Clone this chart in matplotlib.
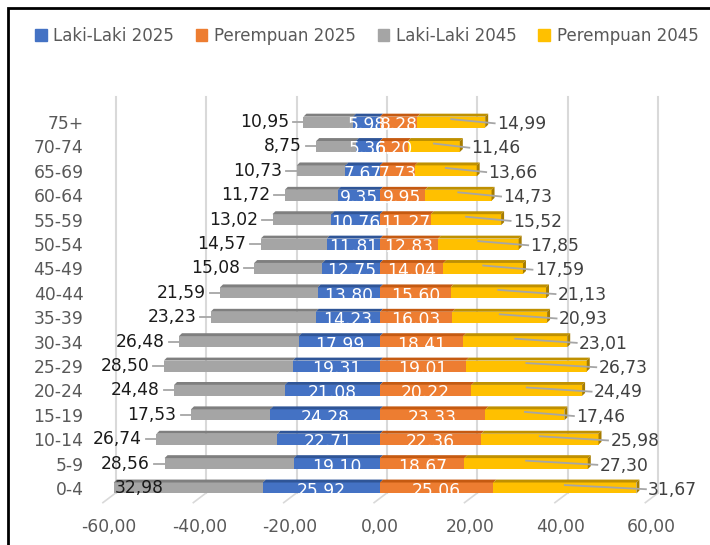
import matplotlib.pyplot as plt
from matplotlib.patches import Patch, Polygon, Rectangle

plt.rcParams['font.family'] = ['DejaVu Sans']

# Data piramida penduduk (persen ribu), dari kelompok umur termuda ke tertua
kelompok_umur = ['0-4', '5-9', '10-14', '15-19', '20-24', '25-29', '30-34', '35-39',
                 '40-44', '45-49', '50-54', '55-59', '60-64', '65-69', '70-74', '75+']
laki_2025 = [25.92, 19.10, 22.71, 24.28, 21.08, 19.31, 17.99, 14.23,
             13.80, 12.75, 11.81, 10.76, 9.35, 7.67, 5.36, 5.98]
perempuan_2025 = [25.06, 18.67, 22.36, 23.33, 20.22, 19.01, 18.41, 16.03,
                  15.60, 14.04, 12.83, 11.27, 9.95, 7.73, 6.20, 8.28]
laki_2045 = [32.98, 28.56, 26.74, 17.53, 24.48, 28.50, 26.48, 23.23,
             21.59, 15.08, 14.57, 13.02, 11.72, 10.73, 8.75, 10.95]
perempuan_2045 = [31.67, 27.30, 25.98, 17.46, 24.49, 26.73, 23.01, 20.93,
                  21.13, 17.59, 17.85, 15.52, 14.73, 13.66, 11.46, 14.99]
sumbu_x = [-60, -40, -20, 0, 20, 40, 60]

# Warna gaya Excel: muka depan dan muka atas (lebih gelap)
biru, biru_atas = '#4472C4', '#2F5597'
oranye, oranye_atas = '#ED7D31', '#C55A11'
abu, abu_atas = '#A5A5A5', '#7F7F7F'
kuning, kuning_atas = '#FFC000', '#BF9000'

FS = 12.3
fig = plt.figure(figsize=(7.1, 5.45), dpi=100)
ax = fig.add_axes([0.1214, 0.0697, 0.834, 0.7743])
ax.set_xlim(-65, 66)
ax.set_ylim(-0.78, 16.52)

y = list(range(len(kelompok_umur)))
h = 0.45
dx, dy = 0.66, 0.12  # kedalaman batang 3D

# garis grid di dinding belakang + garis miring di lantai
for v in sumbu_x:
    ax.plot([v + 1.55, v + 1.55], [-0.2, 16.02], color='#D9D9D9', lw=1.5, zorder=0)
    ax.plot([v + 1.55, v - 1.3], [-0.2, -0.6], color='#D9D9D9', lw=1.2, zorder=0)

neg_l25 = [-v for v in laki_2025]
neg_l45 = [-v for v in laki_2045]
b_biru = ax.barh(y, neg_l25, height=h, color=biru, zorder=2)
b_abu = ax.barh(y, neg_l45, left=neg_l25, height=h, color=abu, zorder=2)
b_oranye = ax.barh(y, perempuan_2025, height=h, color=oranye, zorder=2)
b_kuning = ax.barh(y, perempuan_2045, left=perempuan_2025, height=h, color=kuning, zorder=2)

# muka atas tiap segmen
for bars, warna in [(b_abu, abu_atas), (b_biru, biru_atas),
                    (b_oranye, oranye_atas), (b_kuning, kuning_atas)]:
    for p in bars:
        x0 = min(p.get_x(), p.get_x() + p.get_width())
        x1 = max(p.get_x(), p.get_x() + p.get_width())
        top = p.get_y() + p.get_height()
        ax.add_patch(Polygon([(x0, top), (x1, top), (x1 + dx, top + dy), (x0 + dx, top + dy)],
                             closed=True, color=warna, lw=0, zorder=2.5))
# muka kanan ujung batang kuning
for p in b_kuning:
    x1 = p.get_x() + p.get_width()
    y0, y1 = p.get_y(), p.get_y() + p.get_height()
    ax.add_patch(Polygon([(x1, y0), (x1, y1), (x1 + dx, y1 + dy), (x1 + dx, y0 + dy)],
                         closed=True, color='#A67C00', lw=0, zorder=2.6))

# label nilai 2025 (putih, di dalam batang)
for i in y:
    ax.text(-laki_2025[i] / 2, i - 0.12, f'{laki_2025[i]:.2f}', color='white',
            ha='center', va='center', fontsize=FS, zorder=4)
    ax.text(perempuan_2025[i] / 2, i - 0.12, f'{perempuan_2025[i]:.2f}', color='white',
            ha='center', va='center', fontsize=FS, zorder=4)

# label nilai 2045 dengan garis penunjuk
for i in y:
    ujung = -(laki_2025[i] + laki_2045[i])
    teks = f'{laki_2045[i]:.2f}'.replace('.', ',')
    if ujung < -58:
        ax.text(ujung + 0.2, i, teks, color='#1A1A1A', ha='left', va='center',
                fontsize=FS, zorder=4)
    else:
        ax.plot([ujung - 2.3, ujung], [i, i], color='#A6A6A6', lw=1.3, zorder=3)
        ax.text(ujung - 3.2, i, teks, color='#1A1A1A', ha='right', va='center',
                fontsize=FS, zorder=4)

    kanan = perempuan_2025[i] + perempuan_2045[i]
    tengah = perempuan_2025[i] + perempuan_2045[i] / 2
    lx = kanan + 2.6
    ax.plot([tengah, lx - 0.5], [i + 0.12, i - 0.05], color='#A6A6A6', lw=1.3, zorder=3)
    ax.text(lx, i - 0.08, f'{perempuan_2045[i]:.2f}'.replace('.', ','), color='#404040',
            ha='left', va='center', fontsize=FS, zorder=4)

ax.set_yticks(y)
ax.set_yticklabels(kelompok_umur, fontsize=FS, color='#595959')
ax.set_xticks(sumbu_x)
ax.set_xticklabels([f'{v:.2f}'.replace('.', ',') for v in sumbu_x], fontsize=FS, color='#595959')
ax.tick_params(axis='y', length=0, pad=2)
ax.tick_params(axis='x', length=0, pad=8)
for s in ax.spines.values():
    s.set_visible(False)

# legenda di atas
handles = [Patch(color=biru), Patch(color=oranye), Patch(color=abu), Patch(color=kuning)]
labels = ['Laki-Laki 2025', 'Perempuan 2025', 'Laki-Laki 2045', 'Perempuan 2045']
fig.legend(handles, labels, loc='upper left', bbox_to_anchor=(0.028, 0.978), ncol=4,
           frameon=False, fontsize=12, handlelength=0.7, handleheight=0.7,
           handletextpad=0.4, columnspacing=1.3, labelcolor='#595959')

# bingkai area grafik
fig.add_artist(Rectangle((8 / 710, -0.1), 1.2, 1.1 - 8 / 545, transform=fig.transFigure,
                         fill=False, edgecolor='black', lw=2))

plt.savefig('out.png', dpi=100)
